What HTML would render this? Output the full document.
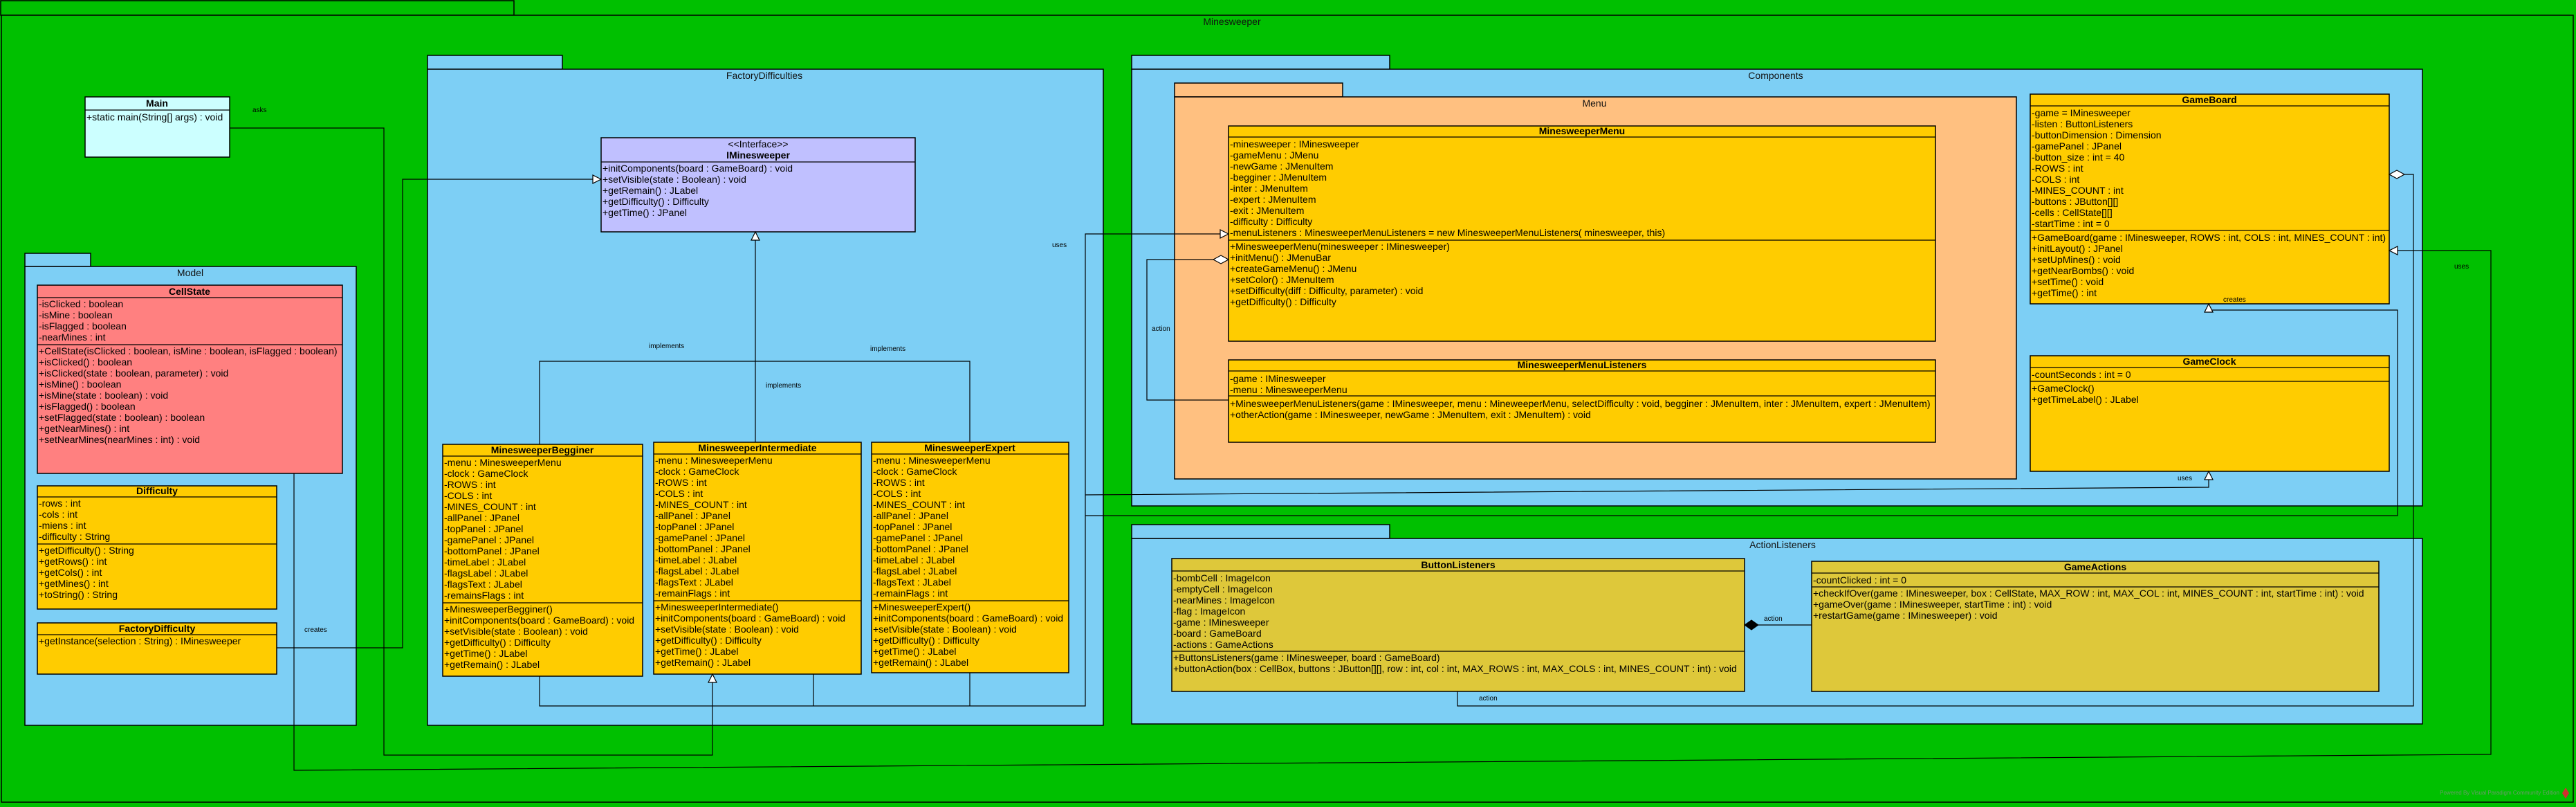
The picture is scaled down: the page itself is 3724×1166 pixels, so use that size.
<!DOCTYPE html>
<html><head><meta charset="utf-8"><style>
html,body{margin:0;padding:0;background:#00C000;}
svg{display:block;}
text{font-family:"Liberation Sans",sans-serif;font-size:14px;fill:#000;}
.t{font-weight:bold;text-anchor:middle;}
.c{text-anchor:middle;}
.pk{font-size:14px;text-anchor:middle;fill:#111;}
.lb{font-size:10px;}
.box{stroke:#000;stroke-width:1.5;}
.ln{stroke:#000;stroke-width:1.2;fill:none;}
</style></head><body>
<svg width="3724" height="1166" viewBox="0 0 3724 1166" xmlns="http://www.w3.org/2000/svg">
<rect x="1" y="1" width="742" height="21" fill="#00C000" class="box"/>
<rect x="2" y="22" width="3718" height="1137" fill="#00C000" class="box"/>
<text x="1781" y="36" class="pk">Minesweeper</text>

<rect x="123" y="140" width="209" height="87" fill="#CCFFFF" class="box"/>
<line x1="123" y1="159" x2="332" y2="159" class="ln"/>
<text x="227" y="154" class="t">Main</text>
<text x="125" y="174">+static main(String[] args) : void</text>

<rect x="36" y="366" width="95" height="19" fill="#7DCFF5" class="box"/>
<rect x="36" y="385" width="479" height="663" fill="#7DCFF5" class="box"/>
<text x="275" y="399" class="pk">Model</text>

<rect x="54" y="412" width="441" height="272" fill="#FF8080" class="box"/>
<line x1="54" y1="430" x2="495" y2="430" class="ln"/>
<line x1="54" y1="498" x2="495" y2="498" class="ln"/>
<text x="274" y="426" class="t">CellState</text>
<text x="56" y="444">-isClicked : boolean</text>
<text x="56" y="460">-isMine : boolean</text>
<text x="56" y="476">-isFlagged : boolean</text>
<text x="56" y="492">-nearMines : int</text>
<text x="56" y="512">+CellState(isClicked : boolean, isMine : boolean, isFlagged : boolean)</text>
<text x="56" y="528">+isClicked() : boolean</text>
<text x="56" y="544">+isClicked(state : boolean, parameter) : void</text>
<text x="56" y="560">+isMine() : boolean</text>
<text x="56" y="576">+isMine(state : boolean) : void</text>
<text x="56" y="592">+isFlagged() : boolean</text>
<text x="56" y="608">+setFlagged(state : boolean) : boolean</text>
<text x="56" y="624">+getNearMines() : int</text>
<text x="56" y="640">+setNearMines(nearMines : int) : void</text>

<rect x="54" y="702" width="346" height="178" fill="#FFCC00" class="box"/>
<line x1="54" y1="718" x2="400" y2="718" class="ln"/>
<line x1="54" y1="786" x2="400" y2="786" class="ln"/>
<text x="227" y="714" class="t">Difficulty</text>
<text x="56" y="732">-rows : int</text>
<text x="56" y="748">-cols : int</text>
<text x="56" y="764">-miens : int</text>
<text x="56" y="780">-difficulty : String</text>
<text x="56" y="800">+getDifficulty() : String</text>
<text x="56" y="816">+getRows() : int</text>
<text x="56" y="832">+getCols() : int</text>
<text x="56" y="848">+getMines() : int</text>
<text x="56" y="864">+toString() : String</text>

<rect x="54" y="900" width="346" height="74" fill="#FFCC00" class="box"/>
<line x1="54" y1="917" x2="400" y2="917" class="ln"/>
<text x="227" y="913" class="t">FactoryDifficulty</text>
<text x="56" y="931">+getInstance(selection : String) : IMinesweeper</text>

<rect x="618" y="80" width="195" height="20" fill="#7DCFF5" class="box"/>
<rect x="618" y="100" width="977" height="948" fill="#7DCFF5" class="box"/>
<text x="1105" y="114" class="pk">FactoryDifficulties</text>

<rect x="869" y="199" width="454" height="136" fill="#C0C0FF" class="box"/>
<line x1="869" y1="234" x2="1323" y2="234" class="ln"/>
<text x="1096" y="213" class="c">&lt;&lt;Interface&gt;&gt;</text>
<text x="1096" y="229" class="t">IMinesweeper</text>
<text x="871" y="248">+initComponents(board : GameBoard) : void</text>
<text x="871" y="264">+setVisible(state : Boolean) : void</text>
<text x="871" y="280">+getRemain() : JLabel</text>
<text x="871" y="296">+getDifficulty() : Difficulty</text>
<text x="871" y="312">+getTime() : JPanel</text>

<rect x="640" y="642" width="289" height="335" fill="#FFCC00" class="box"/>
<line x1="640" y1="659" x2="929" y2="659" class="ln"/>
<line x1="640" y1="871" x2="929" y2="871" class="ln"/>
<text x="784" y="655" class="t">MinesweeperBegginer</text>
<text x="642" y="673">-menu : MinesweeperMenu</text>
<text x="642" y="689">-clock : GameClock</text>
<text x="642" y="705">-ROWS : int</text>
<text x="642" y="721">-COLS : int</text>
<text x="642" y="737">-MINES_COUNT : int</text>
<text x="642" y="753">-allPanel : JPanel</text>
<text x="642" y="769">-topPanel : JPanel</text>
<text x="642" y="785">-gamePanel : JPanel</text>
<text x="642" y="801">-bottomPanel : JPanel</text>
<text x="642" y="817">-timeLabel : JLabel</text>
<text x="642" y="833">-flagsLabel : JLabel</text>
<text x="642" y="849">-flagsText : JLabel</text>
<text x="642" y="865">-remainsFlags : int</text>
<text x="642" y="885">+MinesweeperBegginer()</text>
<text x="642" y="901">+initComponents(board : GameBoard) : void</text>
<text x="642" y="917">+setVisible(state : Boolean) : void</text>
<text x="642" y="933">+getDifficulty() : Difficulty</text>
<text x="642" y="949">+getTime() : JLabel</text>
<text x="642" y="965">+getRemain() : JLabel</text>

<rect x="945" y="639" width="300" height="335" fill="#FFCC00" class="box"/>
<line x1="945" y1="656" x2="1245" y2="656" class="ln"/>
<line x1="945" y1="868" x2="1245" y2="868" class="ln"/>
<text x="1095" y="652" class="t">MinesweeperIntermediate</text>
<text x="947" y="670">-menu : MinesweeperMenu</text>
<text x="947" y="686">-clock : GameClock</text>
<text x="947" y="702">-ROWS : int</text>
<text x="947" y="718">-COLS : int</text>
<text x="947" y="734">-MINES_COUNT : int</text>
<text x="947" y="750">-allPanel : JPanel</text>
<text x="947" y="766">-topPanel : JPanel</text>
<text x="947" y="782">-gamePanel : JPanel</text>
<text x="947" y="798">-bottomPanel : JPanel</text>
<text x="947" y="814">-timeLabel : JLabel</text>
<text x="947" y="830">-flagsLabel : JLabel</text>
<text x="947" y="846">-flagsText : JLabel</text>
<text x="947" y="862">-remainFlags : int</text>
<text x="947" y="882">+MinesweeperIntermediate()</text>
<text x="947" y="898">+initComponents(board : GameBoard) : void</text>
<text x="947" y="914">+setVisible(state : Boolean) : void</text>
<text x="947" y="930">+getDifficulty() : Difficulty</text>
<text x="947" y="946">+getTime() : JLabel</text>
<text x="947" y="962">+getRemain() : JLabel</text>

<rect x="1260" y="639" width="285" height="333" fill="#FFCC00" class="box"/>
<line x1="1260" y1="656" x2="1545" y2="656" class="ln"/>
<line x1="1260" y1="868" x2="1545" y2="868" class="ln"/>
<text x="1402" y="652" class="t">MinesweeperExpert</text>
<text x="1262" y="670">-menu : MinesweeperMenu</text>
<text x="1262" y="686">-clock : GameClock</text>
<text x="1262" y="702">-ROWS : int</text>
<text x="1262" y="718">-COLS : int</text>
<text x="1262" y="734">-MINES_COUNT : int</text>
<text x="1262" y="750">-allPanel : JPanel</text>
<text x="1262" y="766">-topPanel : JPanel</text>
<text x="1262" y="782">-gamePanel : JPanel</text>
<text x="1262" y="798">-bottomPanel : JPanel</text>
<text x="1262" y="814">-timeLabel : JLabel</text>
<text x="1262" y="830">-flagsLabel : JLabel</text>
<text x="1262" y="846">-flagsText : JLabel</text>
<text x="1262" y="862">-remainFlags : int</text>
<text x="1262" y="882">+MinesweeperExpert()</text>
<text x="1262" y="898">+initComponents(board : GameBoard) : void</text>
<text x="1262" y="914">+setVisible(state : Boolean) : void</text>
<text x="1262" y="930">+getDifficulty() : Difficulty</text>
<text x="1262" y="946">+getTime() : JLabel</text>
<text x="1262" y="962">+getRemain() : JLabel</text>

<rect x="1636" y="80" width="373" height="20" fill="#7DCFF5" class="box"/>
<rect x="1636" y="100" width="1866" height="631" fill="#7DCFF5" class="box"/>
<text x="2567" y="114" class="pk">Components</text>

<rect x="1698" y="120" width="243" height="20" fill="#FFC080" class="box"/>
<rect x="1698" y="140" width="1217" height="552" fill="#FFC080" class="box"/>
<text x="2305" y="154" class="pk">Menu</text>

<rect x="1776" y="182" width="1022" height="311" fill="#FFCC00" class="box"/>
<line x1="1776" y1="198" x2="2798" y2="198" class="ln"/>
<line x1="1776" y1="347" x2="2798" y2="347" class="ln"/>
<text x="2287" y="194" class="t">MinesweeperMenu</text>
<text x="1778" y="213">-minesweeper : IMinesweeper</text>
<text x="1778" y="229">-gameMenu : JMenu</text>
<text x="1778" y="245">-newGame : JMenuItem</text>
<text x="1778" y="261">-begginer : JMenuItem</text>
<text x="1778" y="277">-inter : JMenuItem</text>
<text x="1778" y="293">-expert : JMenuItem</text>
<text x="1778" y="309">-exit : JMenuItem</text>
<text x="1778" y="325">-difficulty : Difficulty</text>
<text x="1778" y="341">-menuListeners : MinesweeperMenuListeners = new MinesweeperMenuListeners( minesweeper, this)</text>
<text x="1778" y="361">+MinesweeperMenu(minesweeper : IMinesweeper)</text>
<text x="1778" y="377">+initMenu() : JMenuBar</text>
<text x="1778" y="393">+createGameMenu() : JMenu</text>
<text x="1778" y="409">+setColor() : JMenuItem</text>
<text x="1778" y="425">+setDifficulty(diff : Difficulty, parameter) : void</text>
<text x="1778" y="441">+getDifficulty() : Difficulty</text>

<rect x="1776" y="520" width="1022" height="119" fill="#FFCC00" class="box"/>
<line x1="1776" y1="536" x2="2798" y2="536" class="ln"/>
<line x1="1776" y1="572" x2="2798" y2="572" class="ln"/>
<text x="2287" y="532" class="t">MinesweeperMenuListeners</text>
<text x="1778" y="552">-game : IMinesweeper</text>
<text x="1778" y="568">-menu : MinesweeperMenu</text>
<text x="1778" y="588">+MinesweeperMenuListeners(game : IMinesweeper, menu : MineweeperMenu, selectDifficulty : void, begginer : JMenuItem, inter : JMenuItem, expert : JMenuItem)</text>
<text x="1778" y="604">+otherAction(game : IMinesweeper, newGame : JMenuItem, exit : JMenuItem) : void</text>

<rect x="2935" y="136" width="519" height="303" fill="#FFCC00" class="box"/>
<line x1="2935" y1="153" x2="3454" y2="153" class="ln"/>
<line x1="2935" y1="333" x2="3454" y2="333" class="ln"/>
<text x="3194" y="149" class="t">GameBoard</text>
<text x="2937" y="168">-game = IMinesweeper</text>
<text x="2937" y="184">-listen : ButtonListeners</text>
<text x="2937" y="200">-buttonDimension : Dimension</text>
<text x="2937" y="216">-gamePanel : JPanel</text>
<text x="2937" y="232">-button_size : int = 40</text>
<text x="2937" y="248">-ROWS : int</text>
<text x="2937" y="264">-COLS : int</text>
<text x="2937" y="280">-MINES_COUNT : int</text>
<text x="2937" y="296">-buttons : JButton[][]</text>
<text x="2937" y="312">-cells : CellState[][]</text>
<text x="2937" y="328">-startTime : int = 0</text>
<text x="2937" y="348">+GameBoard(game : IMinesweeper, ROWS : int, COLS : int, MINES_COUNT : int)</text>
<text x="2937" y="364">+initLayout() : JPanel</text>
<text x="2937" y="380">+setUpMines() : void</text>
<text x="2937" y="396">+getNearBombs() : void</text>
<text x="2937" y="412">+setTime() : void</text>
<text x="2937" y="428">+getTime() : int</text>

<rect x="2935" y="514" width="519" height="167" fill="#FFCC00" class="box"/>
<line x1="2935" y1="531" x2="3454" y2="531" class="ln"/>
<line x1="2935" y1="551" x2="3454" y2="551" class="ln"/>
<text x="3194" y="527" class="t">GameClock</text>
<text x="2937" y="546">-countSeconds : int = 0</text>
<text x="2937" y="566">+GameClock()</text>
<text x="2937" y="582">+getTimeLabel() : JLabel</text>

<rect x="1636" y="758" width="373" height="20" fill="#7DCFF5" class="box"/>
<rect x="1636" y="778" width="1866" height="268" fill="#7DCFF5" class="box"/>
<text x="2577" y="792" class="pk">ActionListeners</text>

<rect x="1694" y="807" width="828" height="192" fill="#DEC83A" class="box"/>
<line x1="1694" y1="825" x2="2522" y2="825" class="ln"/>
<line x1="1694" y1="941" x2="2522" y2="941" class="ln"/>
<text x="2108" y="821" class="t">ButtonListeners</text>
<text x="1696" y="840">-bombCell : ImageIcon</text>
<text x="1696" y="856">-emptyCell : ImageIcon</text>
<text x="1696" y="872">-nearMines : ImageIcon</text>
<text x="1696" y="888">-flag : ImageIcon</text>
<text x="1696" y="904">-game : IMinesweeper</text>
<text x="1696" y="920">-board : GameBoard</text>
<text x="1696" y="936">-actions : GameActions</text>
<text x="1696" y="955">+ButtonsListeners(game : IMinesweeper, board : GameBoard)</text>
<text x="1696" y="971">+buttonAction(box : CellBox, buttons : JButton[][], row : int, col : int, MAX_ROWS : int, MAX_COLS : int, MINES_COUNT : int) : void</text>

<rect x="2619" y="811" width="820" height="188" fill="#DEC83A" class="box"/>
<line x1="2619" y1="828" x2="3439" y2="828" class="ln"/>
<line x1="2619" y1="848" x2="3439" y2="848" class="ln"/>
<text x="3029" y="824" class="t">GameActions</text>
<text x="2621" y="843">-countClicked : int = 0</text>
<text x="2621" y="862">+checkIfOver(game : IMinesweeper, box : CellState, MAX_ROW : int, MAX_COL : int, MINES_COUNT : int, startTime : int) : void</text>
<text x="2621" y="878">+gameOver(game : IMinesweeper, startTime : int) : void</text>
<text x="2621" y="894">+restartGame(game : IMinesweeper) : void</text>

<polyline class="ln" points="332,185 555,185 555,1091 1030,1091 1030,986"/>
<polygon points="1030,974 1024,986 1036,986" fill="#fff" stroke="#000" stroke-width="1.2"/>
<text x="365" y="162" class="lb">asks</text>

<polyline class="ln" points="400,936 582,936 582,259 857,259"/>
<polygon points="869,259 857,253 857,265" fill="#fff" stroke="#000" stroke-width="1.2"/>
<text x="440" y="913" class="lb">creates</text>

<polyline class="ln" points="425,684 425,1113 3601,1090 3601,362 3466,362"/>
<polygon points="3454,362 3466,356 3466,368" fill="#fff" stroke="#000" stroke-width="1.2"/>
<text x="3548" y="388" class="lb">uses</text>

<polyline class="ln" points="1092,347 1092,639"/>
<polygon points="1092,335 1086,347 1098,347" fill="#fff" stroke="#000" stroke-width="1.2"/>
<polyline class="ln" points="780,642 780,522 1402,522 1402,639"/>
<text x="938" y="503" class="lb">implements</text>
<text x="1258" y="507" class="lb">implements</text>
<text x="1107" y="560" class="lb">implements</text>

<polyline class="ln" points="780,977 780,1020 1569,1020 1569,338 1764,338"/>
<polygon points="1776,338 1764,332 1764,344" fill="#fff" stroke="#000" stroke-width="1.2"/>
<line class="ln" x1="1176" y1="974" x2="1176" y2="1020"/>
<line class="ln" x1="1402" y1="972" x2="1402" y2="1020"/>
<text x="1521" y="357" class="lb">uses</text>

<polyline class="ln" points="1569,715 3193,704 3193,693"/>
<polygon points="3193,681 3187,693 3199,693" fill="#fff" stroke="#000" stroke-width="1.2"/>
<text x="3148" y="694" class="lb">uses</text>

<polyline class="ln" points="1569,745 3466,745 3466,448 3193,448 3193,451"/>
<polygon points="3193,439 3187,451 3199,451" fill="#fff" stroke="#000" stroke-width="1.2"/>
<text x="3214" y="436" class="lb">creates</text>

<polyline class="ln" points="1754,375 1658,375 1658,578 1776,578"/>
<polygon points="1776,375 1765,369 1754,375 1765,381" fill="#fff" stroke="#000" stroke-width="1.2"/>
<text x="1665" y="478" class="lb">action</text>

<polyline class="ln" points="3476,252 3489,252 3489,1020 2107,1020 2107,999"/>
<polygon points="3454,252 3465,246 3476,252 3465,258" fill="#fff" stroke="#000" stroke-width="1.2"/>
<text x="2138" y="1012" class="lb">action</text>

<line class="ln" x1="2542" y1="903" x2="2619" y2="903"/>
<polygon points="2522,903 2532,896 2542,903 2532,910" fill="#000" stroke="#000"/>
<text x="2550" y="897" class="lb">action</text>

<text x="3700" y="1148" style="font-size:8px;fill:#6a9a6a;text-anchor:end">Powered By Visual Paradigm Community Edition</text>
<polygon points="3709,1138 3714,1146 3709,1154 3704,1146" fill="#d03030"/>
</svg>
</body></html>
